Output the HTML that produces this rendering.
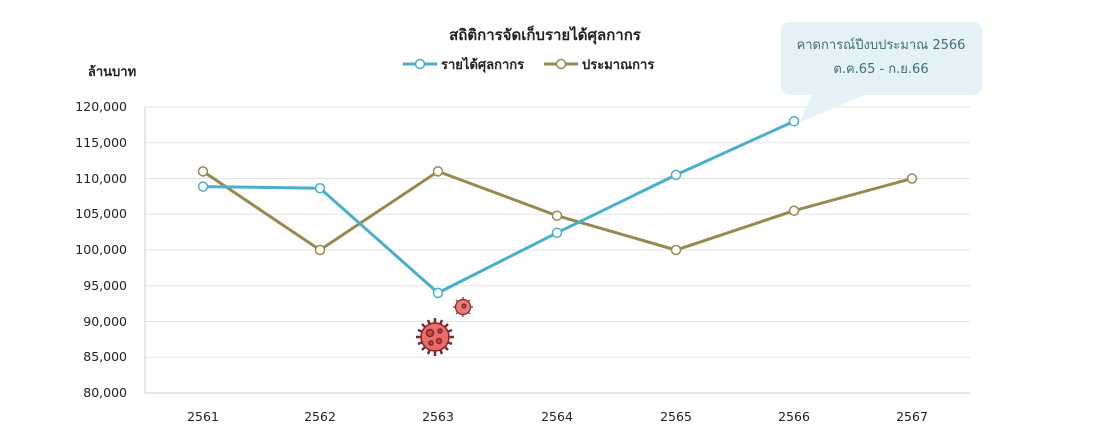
<!DOCTYPE html>
<html><head><meta charset="utf-8"><style>
html,body{margin:0;padding:0;background:#fff;}
svg{display:block;font-family:"DejaVu Sans","Liberation Sans",sans-serif;}
</style></head><body>
<svg width="1100" height="435" viewBox="0 0 1100 435" xmlns="http://www.w3.org/2000/svg">
<g stroke="#e3e3e3" stroke-width="1">
<line x1="145" x2="970" y1="107" y2="107"/>
<line x1="145" x2="970" y1="142.75" y2="142.75"/>
<line x1="145" x2="970" y1="178.5" y2="178.5"/>
<line x1="145" x2="970" y1="214.25" y2="214.25"/>
<line x1="145" x2="970" y1="250" y2="250"/>
<line x1="145" x2="970" y1="285.75" y2="285.75"/>
<line x1="145" x2="970" y1="321.5" y2="321.5"/>
<line x1="145" x2="970" y1="357.25" y2="357.25"/>
</g>
<line x1="145" x2="970" y1="393" y2="393" stroke="#cfcfcf"/>
<line x1="145" x2="145" y1="107" y2="393" stroke="#cfcfcf"/>
<g font-size="12.5" fill="#222" text-anchor="end">
<text x="127" y="111">120,000</text>
<text x="127" y="147">115,000</text>
<text x="127" y="183">110,000</text>
<text x="127" y="218">105,000</text>
<text x="127" y="254">100,000</text>
<text x="127" y="290">95,000</text>
<text x="127" y="326">90,000</text>
<text x="127" y="361">85,000</text>
<text x="127" y="397">80,000</text>
</g>
<g font-size="12.5" fill="#222" text-anchor="middle">
<text x="203" y="421">2561</text><text x="320" y="421">2562</text><text x="438" y="421">2563</text>
<text x="557" y="421">2564</text><text x="676" y="421">2565</text><text x="794" y="421">2566</text>
<text x="912" y="421">2567</text>
</g>
<text x="112" y="76" font-size="13" fill="#222" text-anchor="middle" font-weight="bold">ล้านบาท</text>
<text x="545" y="40" font-size="15" fill="#222" text-anchor="middle" font-weight="bold">สถิติการจัดเก็บรายได้ศุลกากร</text>
<line x1="403" x2="437" y1="64" y2="64" stroke="#4aafc9" stroke-width="3"/>
<circle cx="420" cy="64" r="4.5" fill="#fff" stroke="#4aafc9" stroke-width="1.5"/>
<text x="441" y="69" font-size="13" fill="#222" font-weight="bold">รายได้ศุลกากร</text>
<line x1="544" x2="578" y1="64" y2="64" stroke="#978a4e" stroke-width="3"/>
<circle cx="561" cy="64" r="4.5" fill="#fff" stroke="#978a4e" stroke-width="1.5"/>
<text x="582" y="69" font-size="13" fill="#222" font-weight="bold">ประมาณการ</text>
<polyline fill="none" stroke="#978a4e" stroke-width="3" points="203,171.4 320,250 438,171.4 557,215.7 676,250 794,210.7 912,178.5"/>
<polyline fill="none" stroke="#4aafc9" stroke-width="3" points="203,186.6 320,188.2 438,292.9 557,232.8 676,174.9 794,121.3"/>
<g fill="#fff" stroke="#978a4e" stroke-width="1.5">
<circle cx="203" cy="171.4" r="4.5"/><circle cx="320" cy="250" r="4.5"/><circle cx="438" cy="171.4" r="4.5"/>
<circle cx="557" cy="215.7" r="4.5"/><circle cx="676" cy="250" r="4.5"/><circle cx="794" cy="210.7" r="4.5"/><circle cx="912" cy="178.5" r="4.5"/>
</g>
<g fill="#fff" stroke="#4aafc9" stroke-width="1.5">
<circle cx="203" cy="186.6" r="4.5"/><circle cx="320" cy="188.2" r="4.5"/><circle cx="438" cy="292.9" r="4.5"/>
<circle cx="557" cy="232.8" r="4.5"/><circle cx="676" cy="174.9" r="4.5"/><circle cx="794" cy="121.3" r="4.5"/>
</g>
<path d="M791,22 H972 Q982,22 982,32 V85 Q982,95 972,95 H865 L800,122 L812,95 H791 Q781,95 781,85 V32 Q781,22 791,22 Z" fill="#e4f1f6"/>
<text x="881" y="49" font-size="13" fill="#3f6f78" text-anchor="middle">คาดการณ์ปีงบประมาณ 2566</text>
<text x="881" y="73" font-size="13" fill="#3f6f78" text-anchor="middle">ต.ค.65 - ก.ย.66</text>
<g stroke="#7a2a2a" stroke-width="1.5">
<g transform="translate(435,337)">
<g stroke-width="2.5" stroke="#7a2a2a">
<line x1="-19" y1="0" x2="19" y2="0"/><line x1="0" y1="-19" x2="0" y2="19"/>
<line x1="-13" y1="-13" x2="13" y2="13"/><line x1="-13" y1="13" x2="13" y2="-13"/>
<line x1="-7" y1="-17" x2="7" y2="17"/><line x1="-17" y1="-7" x2="17" y2="7"/>
<line x1="7" y1="-17" x2="-7" y2="17"/><line x1="17" y1="-7" x2="-17" y2="7"/>
</g>
<circle r="14" fill="#ee6a6a"/>
<circle cx="-5" cy="-4" r="3.5" fill="#c94848"/><circle cx="4" cy="4" r="2.5" fill="#c94848"/><circle cx="5" cy="-6" r="2" fill="#c94848"/><circle cx="-4" cy="6" r="2" fill="#c94848"/>
</g>
<g transform="translate(463,307)" stroke-width="1.2">
<line x1="-10" y1="0" x2="10" y2="0"/><line x1="0" y1="-10" x2="0" y2="10"/>
<line x1="-7" y1="-7" x2="7" y2="7"/><line x1="-7" y1="7" x2="7" y2="-7"/>
<circle r="7.5" fill="#ee7a7a"/><circle cx="1" cy="-1" r="2" fill="#c94848"/>
</g>
</g>
</svg>
</body></html>
